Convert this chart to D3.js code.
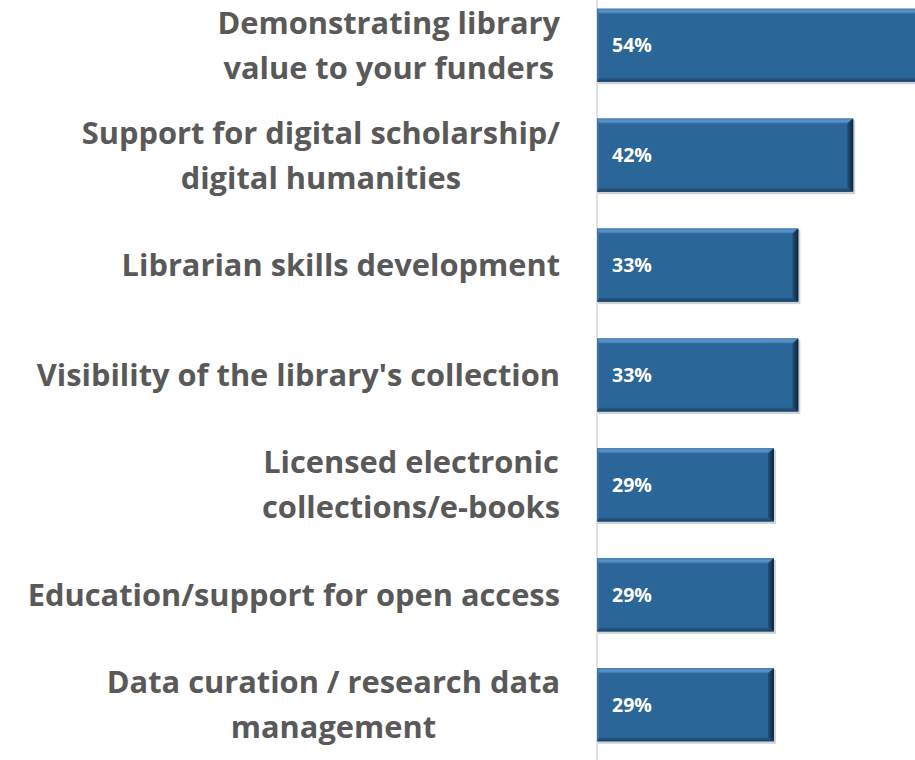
<!DOCTYPE html>
<html><head><meta charset="utf-8">
<script src="https://cdn.jsdelivr.net/npm/d3@7"></script>
<style>body{margin:0;background:#fff}svg{display:block}</style>
</head><body>
<svg id="c" width="915" height="760"></svg>
<script>
const categories = [
  ["Demonstrating library", "value to your funders"],
  ["Support for digital scholarship/", "digital humanities"],
  ["Librarian skills development"],
  ["Visibility of the library's collection"],
  ["Licensed electronic", "collections/e-books"],
  ["Education/support for open access"],
  ["Data curation / research data", "management"]
];
const values = [54, 42, 33, 33, 29, 29, 29];
const valueLabels = ["54%", "42%", "33%", "33%", "29%", "29%", "29%"];

const svg = d3.select("#c");
const W = 915, H = 760;
const x = d3.scaleLinear().domain([0, 100]).range([597, 597 + 610]);
const y = d3.scaleBand().domain(d3.range(categories.length)).range([-10, 760]).paddingInner(0.335).paddingOuter(0.17);

const defs = svg.append("defs");
const gTop = defs.append("linearGradient").attr("id","gTop").attr("x1",0).attr("y1",0).attr("x2",0).attr("y2",1);
gTop.append("stop").attr("offset",0).attr("stop-color","#3f7ab3");
gTop.append("stop").attr("offset",0.5).attr("stop-color","#5e95cc");
gTop.append("stop").attr("offset",1).attr("stop-color","#3a74ab");
const gBot = defs.append("linearGradient").attr("id","gBot").attr("x1",0).attr("y1",0).attr("x2",0).attr("y2",1);
gBot.append("stop").attr("offset",0).attr("stop-color","#285d8c");
gBot.append("stop").attr("offset",1).attr("stop-color","#1b3f60");
const gRight = defs.append("linearGradient").attr("id","gRight").attr("x1",0).attr("y1",0).attr("x2",1).attr("y2",0);
gRight.append("stop").attr("offset",0).attr("stop-color","#23527c");
gRight.append("stop").attr("offset",1).attr("stop-color","#0f2438");

// axis line
svg.append("line").attr("x1", x(0)).attr("x2", x(0)).attr("y1", 0).attr("y2", H)
  .attr("stroke", "#d9d9d9").attr("stroke-width", 1.5);

const bars = svg.append("g").selectAll("g").data(values).join("g");
const bw = 5, bb = 4, br = 6;
bars.each(function(v, i) {
  const g = d3.select(this);
  const x0 = x(0), x1 = x(v), y0 = y(i), y1 = y(i) + y.bandwidth();
  g.append("rect").attr("x", x0 + 1).attr("y", y0 + 1.5).attr("width", x1 - x0 + 1).attr("height", y1 - y0 + 1)
    .attr("fill", "#9aa9b8").attr("opacity", 0.5);
  g.append("rect").attr("x", x0).attr("y", y0).attr("width", x1 - x0).attr("height", y1 - y0).attr("fill", "#2b6699");
  g.append("polygon").attr("points", [[x0,y0],[x1,y0],[x1-br,y0+bw],[x0+2,y0+bw]].join(" ")).attr("fill","url(#gTop)");
  g.append("polygon").attr("points", [[x0+2,y1-bb],[x1-br,y1-bb],[x1,y1],[x0,y1]].join(" ")).attr("fill","url(#gBot)");
  g.append("polygon").attr("points", [[x1-br,y0+bw],[x1,y0],[x1,y1],[x1-br,y1-bb]].join(" ")).attr("fill","url(#gRight)");
  g.append("polygon").attr("points", [[x0,y0],[x0+2,y0+bw],[x0+2,y1-bb],[x0,y1]].join(" ")).attr("fill","#3b73a8");
  g.append("text").attr("x", x0 + 15).attr("y", (y0 + y1) / 2 + 7)
    .attr("fill", "#fff").attr("font-family", "'Open Sans', sans-serif").attr("font-weight", 700)
    .attr("font-size", 19.5).text(valueLabels[i]);
});

const labels = svg.append("g").attr("font-family", "'Open Sans', sans-serif").attr("font-weight", 700)
  .attr("font-size", 30.8).attr("fill", "#595959");
categories.forEach((lines, i) => {
  const cy = y(i) + y.bandwidth() / 2;
  const lh = 45;
  const t = labels.append("g");
  const texts = lines.map((s, k) => t.append("text").attr("text-anchor", "middle")
    .attr("y", cy + (k - (lines.length - 1) / 2) * lh + 11).text(s));
  const maxW = d3.max(texts, n => n.node().getComputedTextLength());
  texts.forEach(n => n.attr("x", 560 - maxW / 2));
});
</script>
</body></html>
